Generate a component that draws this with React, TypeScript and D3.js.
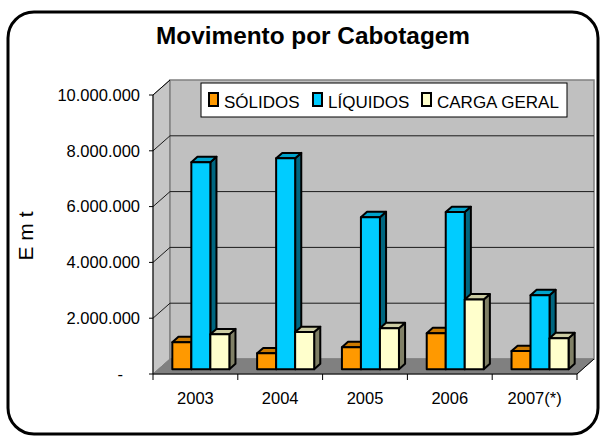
import React from "react";
import * as d3 from "d3";

const categories = ["2003", "2004", "2005", "2006", "2007(*)"];
const seriesNames = ["SÓLIDOS", "LÍQUIDOS", "CARGA GERAL"];
const solidos = [970000, 570000, 790000, 1290000, 650000];
const liquidos = [7420000, 7560000, 5450000, 5630000, 2650000];
const cargaGeral = [1250000, 1330000, 1470000, 2500000, 1110000];
const yTicks = [0, 2000000, 4000000, 6000000, 8000000, 10000000];

const seriesColors = [
  { front: "#FF9900", top: "#CC7A00", side: "#804D00" },
  { front: "#00CCFF", top: "#00A3CC", side: "#006680" },
  { front: "#FFFFCC", top: "#CCCCA3", side: "#808066" },
];

const W = 602;
const H = 439;
const FONT = "'Liberation Sans', Arial, sans-serif";

const DX = 17;
const DY = 15;
const Z0 = 0.32;
const Z1 = 0.68;

export default function App() {
  const seriesValues = [solidos, liquidos, cargaGeral];
  const x = d3.scaleBand<string>().domain(categories).range([153, 577]).padding(0);
  const xi = d3
    .scaleBand<string>()
    .domain(seriesNames)
    .range([0, x.bandwidth()])
    .paddingInner(0)
    .paddingOuter(0.73);
  const y = d3.scaleLinear().domain([0, 10000000]).range([374, 95]);

  const P = (px: number, v: number, z: number): [number, number] => [px + DX * z, y(v) - DY * z];
  const poly = (pts: [number, number][]) => pts.map((p) => p.join(",")).join(" ");

  const fmt = (v: number) =>
    v === 0 ? "-" : d3.format(",")(v).replace(/,/g, ".");

  const x0 = x.range()[0];
  const x1 = x.range()[1];
  const vMax = y.domain()[1];

  return (
    <svg
      width={W}
      height={H}
      style={{ position: "absolute", left: 0, top: 0, background: "#fff" }}
      fontFamily={FONT}
    >
      <rect x={0} y={0} width={W} height={H} fill="#fff" />
      {/* outer rounded border */}
      <rect x={8} y={12} width={590} height={422} rx={26} ry={26} fill="#fff" stroke="#000" strokeWidth={3} />

      {/* title */}
      <text
        x={313}
        y={44}
        textAnchor="middle"
        fontSize={23.5}
        fontWeight="bold"
        textLength={314}
        lengthAdjust="spacingAndGlyphs"
      >
        Movimento por Cabotagem
      </text>

      {/* side wall */}
      <polygon
        points={poly([P(x0, 0, 0), P(x0, vMax, 0), P(x0, vMax, 1), P(x0, 0, 1)])}
        fill="#C6C6C6"
        stroke="#808080"
        strokeWidth={1}
      />
      {/* back wall */}
      <polygon
        points={poly([P(x0, 0, 1), P(x0, vMax, 1), P(x1, vMax, 1), P(x1, 0, 1)])}
        fill="#C0C0C0"
        stroke="#808080"
        strokeWidth={1.5}
      />
      {/* floor */}
      <polygon
        points={poly([P(x0, 0, 0), P(x1, 0, 0), P(x1, 0, 1), P(x0, 0, 1)])}
        fill="#808080"
        stroke="#808080"
        strokeWidth={1}
      />
      <line x1={P(x1, 0, 0)[0]} y1={P(x1, 0, 0)[1]} x2={P(x1, 0, 1)[0]} y2={P(x1, 0, 1)[1]} stroke="#000" strokeWidth={1} />

      {/* gridlines */}
      {yTicks
        .filter((t) => t > 0 && t < vMax)
        .map((t) => (
          <polyline
            key={"g" + t}
            points={poly([P(x0, t, 0), P(x0, t, 1), P(x1, t, 1)])}
            fill="none"
            stroke="#1a1a1a"
            strokeWidth={1}
          />
        ))}
      <line x1={P(x0, vMax, 0)[0]} y1={P(x0, vMax, 0)[1]} x2={P(x0, vMax, 1)[0]} y2={P(x0, vMax, 1)[1]} stroke="#000" strokeWidth={1} />

      {/* bars */}
      {categories.map((c, ci) => (
        <g key={c}>
          {seriesNames.map((s, si) => {
            const v = seriesValues[si][ci];
            const bx0 = (x(c) as number) + (xi(s) as number);
            const bx1 = bx0 + xi.bandwidth();
            const col = seriesColors[si];
            return (
              <g key={s} stroke="#000" strokeWidth={2} strokeLinejoin="round">
                <polygon
                  points={poly([P(bx1, 0, Z0), P(bx1, v, Z0), P(bx1, v, Z1), P(bx1, 0, Z1)])}
                  fill={col.side}
                />
                <polygon
                  points={poly([P(bx0, v, Z0), P(bx1, v, Z0), P(bx1, v, Z1), P(bx0, v, Z1)])}
                  fill={col.top}
                />
                <polygon
                  points={poly([P(bx0, 0, Z0), P(bx0, v, Z0), P(bx1, v, Z0), P(bx1, 0, Z0)])}
                  fill={col.front}
                />
              </g>
            );
          })}
        </g>
      ))}

      {/* axes */}
      <line x1={x0} y1={y(vMax)} x2={x0} y2={y(0)} stroke="#000" strokeWidth={1} />
      <line x1={x0} y1={y(0)} x2={x1} y2={y(0)} stroke="#000" strokeWidth={1.2} />
      {yTicks.map((t) => (
        <g key={"t" + t}>
          <line x1={x0 - 4} y1={y(t)} x2={x0} y2={y(t)} stroke="#000" strokeWidth={1} />
          <text
            x={t === 0 ? 123 : 140}
            y={y(t)}
            dy="0.35em"
            textAnchor="end"
            fontSize={16.5}
            fill="#000"
          >
            {fmt(t)}
          </text>
        </g>
      ))}
      {[...categories.map((c) => x(c) as number), x1].map((px, i) => (
        <line key={"xt" + i} x1={px} y1={y(0)} x2={px} y2={y(0) + 6} stroke="#000" strokeWidth={1} />
      ))}
      {categories.map((c) => (
        <text
          key={"xl" + c}
          x={(x(c) as number) + x.bandwidth() / 2}
          y={404}
          textAnchor="middle"
          fontSize={16.5}
          fill="#000"
        >
          {c}
        </text>
      ))}

      {/* y axis title */}
      <text
        transform="translate(33,236) rotate(-90)"
        textAnchor="middle"
        fontSize={21}
        fill="#000"
      >
        E m t
      </text>

      {/* legend */}
      <rect x={201} y={83} width={366} height={34} fill="#fff" stroke="#000" strokeWidth={1} />
      {seriesNames.map((s, si) => {
        const lx = [209, 313, 422][si];
        return (
          <g key={"lg" + s}>
            <rect x={lx} y={93} width={9} height={13} fill={seriesColors[si].front} stroke="#000" strokeWidth={2} />
            <text x={lx + 15} y={108} fontSize={17} fill="#000">
              {s}
            </text>
          </g>
        );
      })}
    </svg>
  );
}
